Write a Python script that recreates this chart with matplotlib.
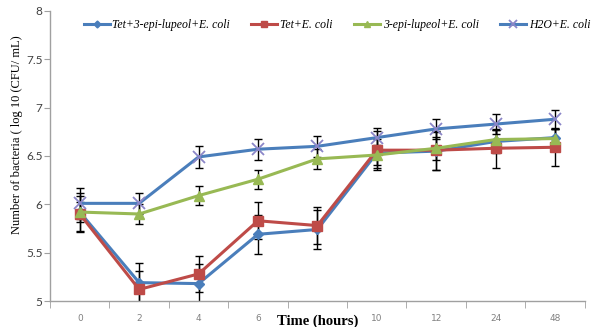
import matplotlib
matplotlib.use("Agg")
import matplotlib.pyplot as plt
import numpy as np

categories = ["0", "2", "4", "6", "8", "10", "12", "24", "48"]
tet_epi = [5.92, 5.19, 5.18, 5.69, 5.74, 6.53, 6.55, 6.65, 6.69]
tet = [5.90, 5.12, 5.28, 5.83, 5.78, 6.56, 6.56, 6.58, 6.59]
epi = [5.92, 5.90, 6.09, 6.26, 6.47, 6.51, 6.58, 6.67, 6.68]
h2o = [6.01, 6.01, 6.49, 6.57, 6.60, 6.69, 6.78, 6.83, 6.88]

tet_epi_err = [0.20, 0.20, 0.20, 0.20, 0.20, 0.15, 0.20, 0.12, 0.10]
tet_err = [0.19, 0.19, 0.19, 0.19, 0.19, 0.20, 0.20, 0.20, 0.19]
epi_err = [0.10, 0.10, 0.10, 0.10, 0.10, 0.10, 0.12, 0.10, 0.10]
h2o_err = [0.16, 0.11, 0.11, 0.11, 0.11, 0.10, 0.10, 0.10, 0.10]

labels = ["Tet+3-epi-lupeol+E. coli", "Tet+E. coli", "3-epi-lupeol+E. coli", "H2O+E. coli"]

fig = plt.figure(figsize=(5.96, 3.27), dpi=100)
ax = fig.add_axes([0.084, 0.0795, 0.897, 0.887])
x = np.arange(len(categories))

ekw = dict(ecolor="black", elinewidth=1.0, capsize=3, capthick=1.0, zorder=1)
ax.errorbar(x, tet_epi, yerr=tet_epi_err, fmt="none", **ekw)
ax.errorbar(x, tet, yerr=tet_err, fmt="none", **ekw)
ax.errorbar(x, epi, yerr=epi_err, fmt="none", **ekw)
ax.errorbar(x, h2o, yerr=h2o_err, fmt="none", **ekw)

ax.plot(x, tet_epi, color="#4A7EBB", lw=2.2, marker="D", ms=5, mfc="#4A7EBB", mec="#4A7EBB", label=labels[0], zorder=3)
ax.plot(x, tet, color="#BE4B48", lw=2.2, marker="s", ms=7, mfc="#BE4B48", mec="#BE4B48", label=labels[1], zorder=3)
ax.plot(x, epi, color="#98B954", lw=2.2, marker="^", ms=7, mfc="#98B954", mec="#98B954", label=labels[2], zorder=3)
ax.plot(x, h2o, color="#4A7EBB", lw=2.2, marker="x", ms=9, mew=1.3, mec="#8B86C8", label=labels[3], zorder=3)

ax.set_xlim(-0.5, 8.5)
ax.set_ylim(5, 8)
ax.set_yticks([5, 5.5, 6, 6.5, 7, 7.5, 8])
ax.set_yticklabels(["5", "5.5", "6", "6.5", "7", "7.5", "8"], family="Lato")
ax.set_xticks(x)
ax.set_xticklabels(categories)
ax.set_xticks(np.arange(-0.5, 9.0, 1.0), minor=True)
ax.tick_params(axis="x", which="major", length=0, labelsize=6.5, labelcolor="#808080", pad=9)
ax.tick_params(axis="x", which="minor", length=5, color="#A0A0A0", direction="out")
ax.tick_params(axis="y", length=4, color="#A0A0A0", labelsize=8.5, labelcolor="#404040", direction="out", pad=1.5)

for s in ["top", "right"]:
    ax.spines[s].set_visible(False)
for s in ["left", "bottom"]:
    ax.spines[s].set_color("#A0A0A0")
    ax.spines[s].set_linewidth(1.0)

ax.set_ylabel("Number of bacteria ( log 10 (CFU/ mL)", family="Liberation Serif", fontsize=9)
ax.yaxis.set_label_coords(-0.05, 0.575)
ax.text(0.5, -0.045, "Time (hours)", transform=ax.transAxes, ha="center", va="top",
        family="Liberation Serif", fontweight="bold", fontsize=10.5,
        bbox=dict(facecolor="white", edgecolor="none", pad=0.5))

leg = ax.legend(loc="upper center", bbox_to_anchor=(0.537, 1.01), ncol=4, frameon=False,
                prop=dict(family="Liberation Serif", style="italic", size=8.5),
                handlelength=2.2, columnspacing=1.8, handletextpad=0.25, markerscale=0.7)

fig.savefig("out.png", dpi=100)
